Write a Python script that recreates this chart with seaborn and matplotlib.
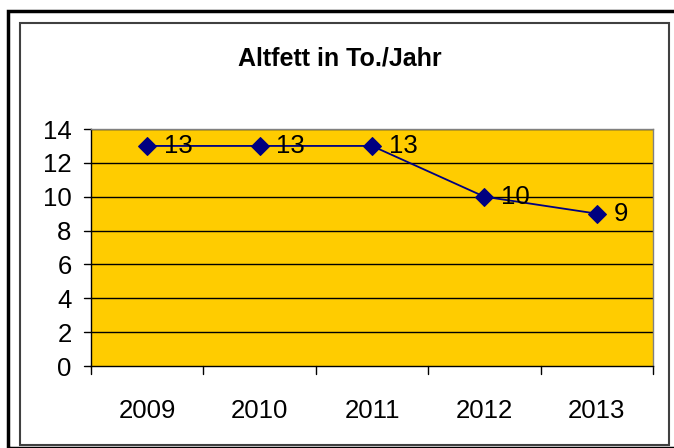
import matplotlib
matplotlib.use("Agg")
import matplotlib.pyplot as plt
from matplotlib.patches import Rectangle
import seaborn as sns
import pandas as pd

# data
years = ["2009", "2010", "2011", "2012", "2013"]
tonnes = [13, 13, 13, 10, 9]
title = "Altfett in To./Jahr"

df = pd.DataFrame({"Jahr": years, "Tonnen": tonnes})

sns.set_style("white")
plt.rcParams["font.family"] = ["Liberation Sans", "DejaVu Sans"]

W, H = 674, 448
fig = plt.figure(figsize=(W / 100, H / 100), dpi=100)
ax = fig.add_axes([91 / W, 1 - 366 / H, (653 - 91) / W, (366 - 129) / H])
ax.set_facecolor("#FFCC00")

# frames round the chart (Excel style)
fig.patches.append(Rectangle((8 / W, 0), 1, 1 - 11 / H, transform=fig.transFigure,
                             fill=False, edgecolor="black", linewidth=2.5, zorder=0))
fig.patches.append(Rectangle((20 / W, 1 - 445 / H), (669 - 20) / W, (445 - 23) / H,
                             transform=fig.transFigure, fill=False,
                             edgecolor="#404040", linewidth=1.5, zorder=0))

for y in range(2, 15, 2):
    ax.axhline(y, color="black", linewidth=1, zorder=1)

sns.lineplot(data=df, x="Jahr", y="Tonnen", ax=ax, color="#000080", linewidth=1.3,
             marker="D", markersize=9.5, markeredgecolor="#000080", zorder=3)

for i, v in enumerate(tonnes):
    ax.annotate(str(v), (i, v), xytext=(12, 0), textcoords="offset points",
                ha="left", va="center", fontsize=18.5, color="black", zorder=4)

ax.set_xlim(-0.5, 4.5)
ax.set_ylim(0, 14)
ax.set_yticks(range(0, 15, 2))
ax.set_xticks(range(len(years)))
ax.set_xticklabels(years)
ax.set_xlabel("")
ax.set_ylabel("")
ax.tick_params(axis="both", labelsize=18.5, labelcolor="black", length=0)
ax.tick_params(axis="y", pad=14)
ax.tick_params(axis="x", pad=24)

# category boundary ticks and y ticks
for b in [x - 0.5 for x in range(len(years) + 1)]:
    ax.plot([b, b], [0, -0.5], color="black", linewidth=1, clip_on=False)
for y in range(0, 15, 2):
    ax.plot([-0.5 - 0.06, -0.5], [y, y], color="black", linewidth=1, clip_on=False)

for s in ["left", "bottom"]:
    ax.spines[s].set_color("black")
    ax.spines[s].set_linewidth(1)
for s in ["top", "right"]:
    ax.spines[s].set_color("#808080")
    ax.spines[s].set_linewidth(1)

fig.text(340 / W, 1 - 58 / H, title, ha="center", va="center",
         fontsize=18, fontweight="bold", color="black")

fig.savefig("out.png", dpi=100)
